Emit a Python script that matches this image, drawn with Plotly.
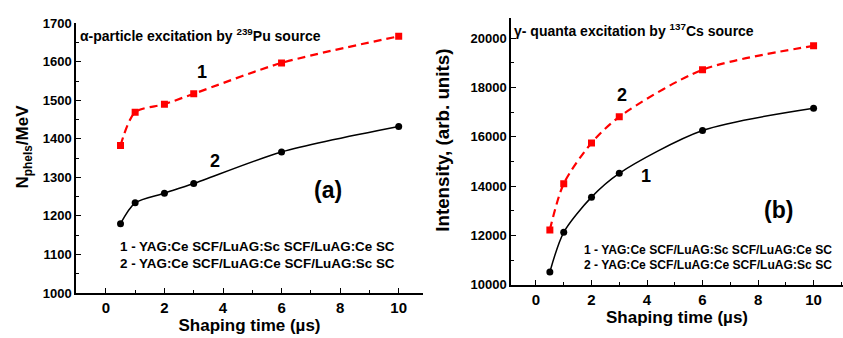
import plotly.graph_objects as go

# ---- data ----
shaping_time = [0.5, 1, 2, 3, 6, 10]
# panel (a): N_phels/MeV
a_s1 = [1383, 1469, 1490, 1517, 1597, 1666]   # 1 - red squares, dashed
a_s2 = [1180, 1234, 1259, 1284, 1366, 1432]   # 2 - black circles, solid
# panel (b): Intensity
b_s2 = [12225, 14100, 15750, 16810, 18720, 19690]  # 2 - red squares, dashed
b_s1 = [10520, 12130, 13555, 14520, 16255, 17160]  # 1 - black circles, solid

x_ticks = [0, 2, 4, 6, 8, 10]
a_yticks = [1000, 1100, 1200, 1300, 1400, 1500, 1600, 1700]
b_yticks = [10000, 12000, 14000, 16000, 18000, 20000]

FONT = "Arial, Liberation Sans, sans-serif"
RED = "#ff0000"
BLACK = "#000000"
W, H = 843, 338
DASH = "8px,5px"

fig = go.Figure()

fig.add_trace(go.Scatter(x=shaping_time, y=a_s1, mode="lines+markers", xaxis="x", yaxis="y",
                         line=dict(color=RED, width=2.2, dash=DASH, shape="spline", smoothing=0.8),
                         marker=dict(symbol="square", size=7, color=RED), showlegend=False))
fig.add_trace(go.Scatter(x=shaping_time, y=a_s2, mode="lines+markers", xaxis="x", yaxis="y",
                         line=dict(color=BLACK, width=1.5, shape="spline", smoothing=0.8),
                         marker=dict(symbol="circle", size=7, color=BLACK), showlegend=False))
fig.add_trace(go.Scatter(x=shaping_time, y=b_s2, mode="lines+markers", xaxis="x2", yaxis="y2",
                         line=dict(color=RED, width=2.2, dash=DASH, shape="spline", smoothing=0.8),
                         marker=dict(symbol="square", size=7, color=RED), showlegend=False))
fig.add_trace(go.Scatter(x=shaping_time, y=b_s1, mode="lines+markers", xaxis="x2", yaxis="y2",
                         line=dict(color=BLACK, width=1.5, shape="spline", smoothing=0.8),
                         marker=dict(symbol="circle", size=7, color=BLACK), showlegend=False))

def px_x(p):
    return p / W

def px_y(p):
    return 1 - p / H

xtickfont = dict(family=FONT, size=15, color="black", weight="bold")
ytickfont = dict(family=FONT, size=13, color="black", weight="bold")
titlefont = dict(family=FONT, size=17, color="black", weight="bold")
common_x = dict(tickvals=x_ticks, ticks="inside", ticklen=5, tickwidth=1, tickcolor="black",
                showline=True, linecolor="black", linewidth=1.5, showgrid=False, zeroline=False,
                tickfont=xtickfont, minor=dict(dtick=1, ticks="inside", ticklen=3, tickcolor="black"),
                title=dict(text="Shaping time (µs)", font=titlefont, standoff=3))
common_y = dict(ticks="inside", ticklen=5, tickwidth=1, tickcolor="black", tickformat="d",
                showline=True, linecolor="black", linewidth=1.5, showgrid=False, zeroline=False,
                tickfont=ytickfont)

fig.update_layout(
    width=W, height=H, margin=dict(l=0, r=0, t=0, b=0),
    paper_bgcolor="white", plot_bgcolor="white",
    xaxis=dict(domain=[px_x(76), px_x(423)], range=[-1.02, 10.83], anchor="y", **common_x),
    yaxis=dict(domain=[px_y(299.3), px_y(17)], range=[1000, 1700], anchor="x", tickvals=a_yticks,
               minor=dict(dtick=50, ticks="inside", ticklen=3, tickcolor="black"), **common_y),
    xaxis2=dict(domain=[px_x(511), 1.0], range=[-0.9, 11.06], anchor="y2", **common_x),
    yaxis2=dict(domain=[px_y(290.7), px_y(12)], range=[10000, 20800], anchor="x2", tickvals=b_yticks,
                minor=dict(dtick=1000, ticks="inside", ticklen=3, tickcolor="black"), **common_y),
)

def ann(text, x, y, size, xanchor="center", yanchor="middle", angle=0):
    fig.add_annotation(text=text, x=px_x(x), y=px_y(y), xref="paper", yref="paper",
                       showarrow=False, xanchor=xanchor, yanchor=yanchor, textangle=angle,
                       borderpad=0,
                       font=dict(family=FONT, size=size, color="black", weight="bold"))

# y axis titles
ann("N<sub>phels</sub>/MeV", 24, 146, 17, angle=-90)
ann("Intensity, (arb. units)", 443, 140, 18.8, angle=-90)

# panel headers
ann("α-particle excitation by <sup>239</sup>Pu source", 79, 29, 14, xanchor="left")
ann("γ- quanta excitation by <sup>137</sup>Cs source", 513, 24, 14, xanchor="left")

# curve labels
ann("1", 202, 68, 18)
ann("2", 215, 161, 18)
ann("(a)", 328, 192, 23)
ann("2", 622, 92, 18)
ann("1", 646, 177, 18)
ann("(b)", 778, 212, 23)

# legends
ann("1 - YAG:Ce SCF/LuAG:Sc SCF/LuAG:Ce SC", 119, 251, 13.4, xanchor="left")
ann("2 - YAG:Ce SCF/LuAG:Ce SCF/LuAG:Sc SC", 119, 268, 13.4, xanchor="left")
ann("1 - YAG:Ce SCF/LuAG:Sc SCF/LuAG:Ce SC", 583, 254, 12.1, xanchor="left")
ann("2 - YAG:Ce SCF/LuAG:Ce SCF/LuAG:Sc SC", 583, 270, 12.1, xanchor="left")

fig.write_html("out.html")
